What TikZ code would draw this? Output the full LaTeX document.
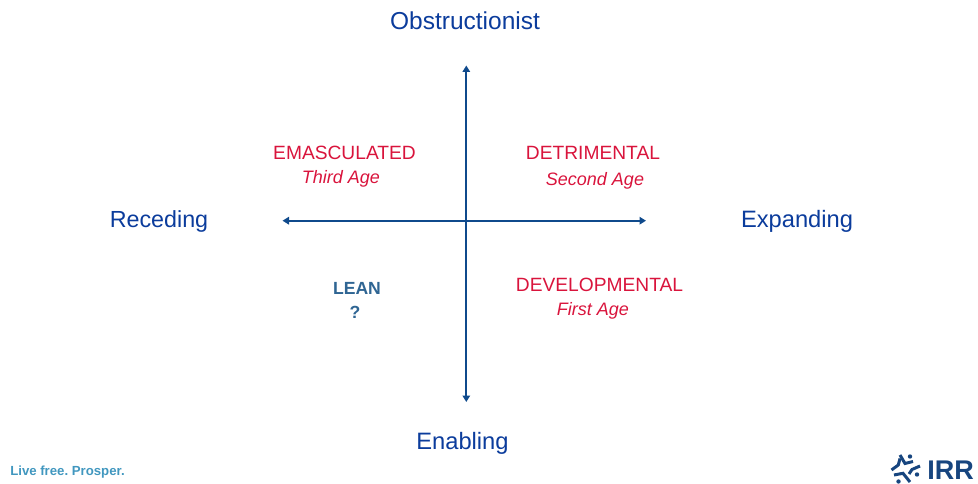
\documentclass[tikz,border=0pt]{standalone}
\usepackage{fontspec}
\setmainfont{Liberation Sans}
\usetikzlibrary{arrows.meta}
\definecolor{axisblue}{HTML}{0F4A8C}
\definecolor{labelblue}{HTML}{0B3C9C}
\definecolor{agered}{HTML}{D9143C}
\definecolor{leanblue}{HTML}{2F6593}
\definecolor{tagblue}{HTML}{4197BF}
\definecolor{logoblue}{HTML}{17457F}
\tikzset{
  axislabel/.style={text=labelblue,font=\fontsize{23.7}{26}\selectfont,inner sep=0pt,anchor=base},
  agelabel/.style={text=agered,font=\fontsize{19.2}{24}\selectfont,inner sep=0pt,anchor=base},
  agesub/.style={text=agered,font=\fontsize{18}{24}\selectfont\itshape,inner sep=0pt,anchor=base},
  leanlabel/.style={text=leanblue,font=\fontsize{17.6}{24}\selectfont\bfseries,inner sep=0pt,anchor=base},
  axisline/.style={draw=axisblue,line width=2.1pt,{Triangle[length=6.5pt,width=7.5pt]}-{Triangle[length=6.5pt,width=7.5pt]}},
  logoarm/.style={draw=logoblue,line width=3pt,line join=miter},
  logohead/.style={fill=logoblue,draw=none}
}
\begin{document}
\frenchspacing
\begin{tikzpicture}[x=1pt,y=-1pt]
\useasboundingbox (0,0) rectangle (978,484);
\coordinate (top) at (466.3,65.5);
\coordinate (bottom) at (466.3,402);
\coordinate (left) at (282.5,220.7);
\coordinate (right) at (646,220.7);
\draw[axisline] (top) -- (bottom);
\draw[axisline] (left) -- (right);
\node[axislabel,font=\fontsize{24.5}{26}\selectfont] (n) at (465,29.5) {Obstructionist};
\node[axislabel] (s) at (462.5,449) {Enabling};
\node[axislabel,font=\fontsize{23.3}{26}\selectfont] (w) at (159,227.5) {Receding};
\node[axislabel] (e) at (797,227.5) {Expanding};
\node[agelabel] (a1) at (344.5,159.5) {EMASCULATED};
\node[agesub] (a1s) at (341,183.3) {Third Age};
\node[agelabel] (a2) at (593,159.5) {DETRIMENTAL};
\node[agesub] (a2s) at (595,185.3) {Second Age};
\node[agelabel] (a3) at (599.5,291) {DEVELOPMENTAL};
\node[agesub] (a3s) at (593,315) {First Age};
\node[leanlabel] (l1) at (357,294.5) {LEAN};
\node[leanlabel] (l2) at (355,318.5) {?};
\node[text=tagblue,font=\fontsize{13.2}{15}\selectfont\bfseries,inner sep=0pt,anchor=base] (tag) at (67.5,475) {Live free. Prosper.};
\node[text=logoblue,font=\fontsize{27}{30}\selectfont\bfseries,inner sep=0pt,anchor=base] (irr) at (950.5,479) {IRR};
\draw[logoarm] (900,455) -- (905,463.5) -- (913,461.5);
\draw[logoarm] (920,466) -- (912,469.5) -- (909,474);
\draw[logoarm] (894,475) -- (903,473.3) -- (910,482);
\draw[logoarm] (891.5,470) -- (898.3,465) -- (900,458.5);
\fill[logohead] (910,456.5) circle (2.2);
\fill[logohead] (917,474.5) circle (2.2);
\fill[logohead] (898.5,481.5) circle (2.2);
\end{tikzpicture}
\end{document}
